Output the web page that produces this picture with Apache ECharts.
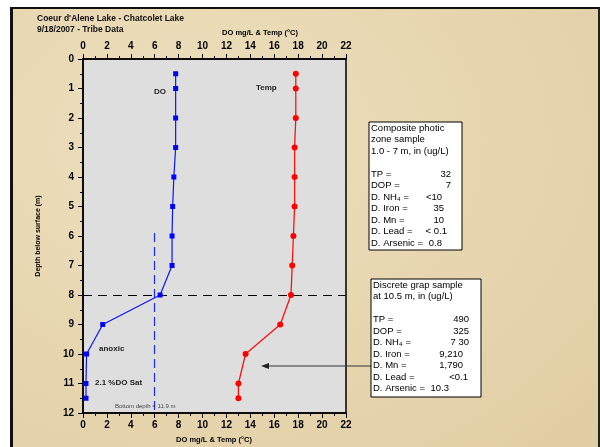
<!DOCTYPE html>
<html>
<head>
<meta charset="utf-8">
<script src="https://cdn.jsdelivr.net/npm/echarts@6/dist/echarts.min.js"></script>
<style>
  html, body { margin: 0; padding: 0; background: #ffffff; }
  #frame {
    position: absolute; left: 10px; top: 7px; width: 585px; height: 445px;
    border-top: 2px solid #111; border-left: 3px solid #111; border-right: 2px solid #222;
    background: radial-gradient(ellipse at 30% 30%, #eee0bf 0%, #e6d5ae 55%, #e0cda3 100%);
  }
  #chart { position: absolute; left: 0; top: 0; width: 600px; height: 447px; }
</style>
</head>
<body>
<div id="frame"></div>
<div id="chart"></div>
<script>
// Depth profile, Chatcolet Lake, 9/18/2007
const depths     = [0.5, 1, 2, 3, 4, 5, 6, 7, 8, 9, 10, 11, 11.5];
const doValues   = [7.75, 7.75, 7.75, 7.75, 7.6, 7.5, 7.45, 7.45, 6.45, 1.65, 0.3, 0.25, 0.25];
const tempValues = [17.8, 17.8, 17.8, 17.7, 17.7, 17.7, 17.6, 17.5, 17.4, 16.5, 13.6, 13.0, 13.0];

const xTicks = [0, 2, 4, 6, 8, 10, 12, 14, 16, 18, 20, 22];
const yTicks = [0, 1, 2, 3, 4, 5, 6, 7, 8, 9, 10, 11, 12];

// reference lines: DO threshold and thermocline depth
const doThreshold = 6;
const doThresholdDepths = [5.9, 11.9];
const clineDepth = 8;

const compositeLines = [
  ['TP =', '32'], ['DOP =', '7'], ['D. NH\u2084 =', '<10'], ['D. Iron =', '35'],
  ['D. Mn =', '10'], ['D. Lead =', '< 0.1'], ['D. Arsenic =', '0.8']
];
const discreteLines = [
  ['TP =', '490'], ['DOP =', '325'], ['D. NH\u2084 =', '7 30'], ['D. Iron =', '9,210'],
  ['D. Mn =', '1,790'], ['D. Lead =', '<0.1'], ['D. Arsenic =', '10.3']
];

const FONT = '"Liberation Sans", Arial, sans-serif';
const BOX_FONT = '9.5px ' + FONT;
const chart = echarts.init(document.getElementById('chart'), null, { renderer: 'canvas' });

function xAxisDef(pos) {
  return {
    type: 'value', position: pos, min: xTicks[0], max: xTicks[xTicks.length - 1], interval: 2,
    axisLine: { show: true, onZero: false, lineStyle: { color: '#000', width: 1.5 } },
    axisTick: { show: true, length: 5, lineStyle: { color: '#000', width: 1 } },
    minorTick: { show: true, splitNumber: 2, length: 3, lineStyle: { color: '#000', width: 1 } },
    splitLine: { show: false },
    axisLabel: { color: '#000', fontWeight: 'bold', fontSize: 10, fontFamily: FONT, margin: pos === 'top' ? 8 : 7 }
  };
}

function boxGraphics(x, y, w, h, header, rows, valueRight) {
  const els = [{
    type: 'rect', shape: { x: x, y: y, width: w, height: h },
    style: { fill: '#ffffff', stroke: '#000', lineWidth: 1 }, z: 10
  }];
  const lh = 11.5;
  header.forEach((t, i) => {
    els.push({ type: 'text', x: x + 2, y: y + 6 + i * lh, z: 11,
      style: { text: t, fill: '#000', font: BOX_FONT, textVerticalAlign: 'middle' } });
  });
  rows.forEach((r, i) => {
    const yy = y + 6 + (header.length + 1 + i) * lh;
    els.push({ type: 'text', x: x + 2, y: yy, z: 11,
      style: { text: r[0], fill: '#000', font: BOX_FONT, textVerticalAlign: 'middle' } });
    els.push({ type: 'text', x: x + valueRight[i], y: yy, z: 11,
      style: { text: r[1], fill: '#000', font: BOX_FONT, textAlign: 'right', textVerticalAlign: 'middle' } });
  });
  return els;
}

const option = {
  backgroundColor: 'transparent',
  animation: false,
  grid: { left: 83, right: 254, top: 59, bottom: 34, show: true, backgroundColor: '#dedede', borderColor: '#000', borderWidth: 1.5 },
  xAxis: [xAxisDef('top'), xAxisDef('bottom')],
  yAxis: {
    type: 'value', inverse: true, min: yTicks[0], max: yTicks[yTicks.length - 1], interval: 1,
    name: 'Depth below surface (m)', nameLocation: 'middle', nameGap: 41,
    nameTextStyle: { color: '#000', fontWeight: 'bold', fontSize: 7, fontFamily: FONT },
    axisLine: { show: true, onZero: false, lineStyle: { color: '#000', width: 1.5 } },
    axisTick: { show: true, length: 5, lineStyle: { color: '#000' } },
    minorTick: { show: true, splitNumber: 2, length: 3, lineStyle: { color: '#000' } },
    splitLine: { show: false },
    axisLabel: { color: '#000', fontWeight: 'bold', fontSize: 10, fontFamily: FONT, margin: 9 }
  },
  series: [
    {
      name: 'DO', type: 'line', xAxisIndex: 1,
      data: depths.map((d, i) => [doValues[i], d]),
      symbol: 'rect', symbolSize: 5, showSymbol: true,
      lineStyle: { color: '#0a14ff', width: 1.2 }, itemStyle: { color: '#0000ff' },
      z: 5,
      markLine: {
        silent: true, symbol: ['none', 'none'], label: { show: false }, z: 3,
        data: [
          [{ coord: [doThreshold, doThresholdDepths[0]], lineStyle: { color: '#1a2aee', type: [9, 5], width: 1.2 } },
           { coord: [doThreshold, doThresholdDepths[1]] }],
          [{ coord: [xTicks[0], clineDepth], lineStyle: { color: '#000', type: [9, 6], width: 1.2 } },
           { coord: [xTicks[xTicks.length - 1], clineDepth] }]
        ]
      }
    },
    {
      name: 'Temp', type: 'line', xAxisIndex: 1,
      data: depths.map((d, i) => [tempValues[i], d]),
      symbol: 'circle', symbolSize: 6, showSymbol: true,
      lineStyle: { color: '#ff1010', width: 1.3 }, itemStyle: { color: '#ff0000' },
      z: 5
    }
  ],
  graphic: [
    { type: 'text', left: 37, top: 14, style: { text: "Coeur d'Alene Lake - Chatcolet Lake", fill: '#111', font: 'bold 8.5px ' + FONT } },
    { type: 'text', left: 37, top: 25, style: { text: '9/18/2007 - Tribe Data', fill: '#111', font: 'bold 8.5px ' + FONT } },
    { type: 'text', x: 260, y: 33, style: { text: 'DO mg/L & Temp (\u00B0C)', fill: '#000', font: 'bold 7.5px ' + FONT, textAlign: 'center', textVerticalAlign: 'middle' } },
    { type: 'text', x: 214, y: 440, style: { text: 'DO mg/L & Temp (\u00B0C)', fill: '#000', font: 'bold 7.5px ' + FONT, textAlign: 'center', textVerticalAlign: 'middle' } },
    { type: 'text', x: 154, y: 91.5, z: 8, style: { text: 'DO', fill: '#222', font: 'bold 8px ' + FONT, textVerticalAlign: 'middle' } },
    { type: 'text', x: 256, y: 87.5, z: 8, style: { text: 'Temp', fill: '#222', font: 'bold 8px ' + FONT, textVerticalAlign: 'middle' } },
    { type: 'text', x: 99, y: 349, z: 8, style: { text: 'anoxic', fill: '#222', font: 'bold 8px ' + FONT, textVerticalAlign: 'middle' } },
    { type: 'text', x: 95, y: 383, z: 8, style: { text: '2.1 %DO Sat', fill: '#222', font: 'bold 8px ' + FONT, textVerticalAlign: 'middle' } },
    { type: 'text', x: 115, y: 406, z: 8, style: { text: 'Bottom depth = 11.9 m', fill: '#444', font: '6px ' + FONT, textVerticalAlign: 'middle' } },
    // pointer from the discrete sample box to its depth
    { type: 'line', z: 9, shape: { x1: 371, y1: 366, x2: 266, y2: 366 }, style: { stroke: '#333', lineWidth: 1 } },
    { type: 'polygon', z: 9, shape: { points: [[261, 366], [269, 363], [269, 369]] }, style: { fill: '#222' } },
    ...boxGraphics(369, 122, 93, 128,
      ['Composite photic', 'zone sample', '1.0 - 7 m, in (ug/L)'],
      compositeLines, [82, 82, 73, 75, 75, 78, 73]),
    ...boxGraphics(371, 279, 110, 118,
      ['Discrete grap sample', 'at 10.5 m, in (ug/L)'],
      discreteLines, [98, 98, 98, 92, 92, 97, 78])
  ]
};
chart.setOption(option);
</script>
</body>
</html>
